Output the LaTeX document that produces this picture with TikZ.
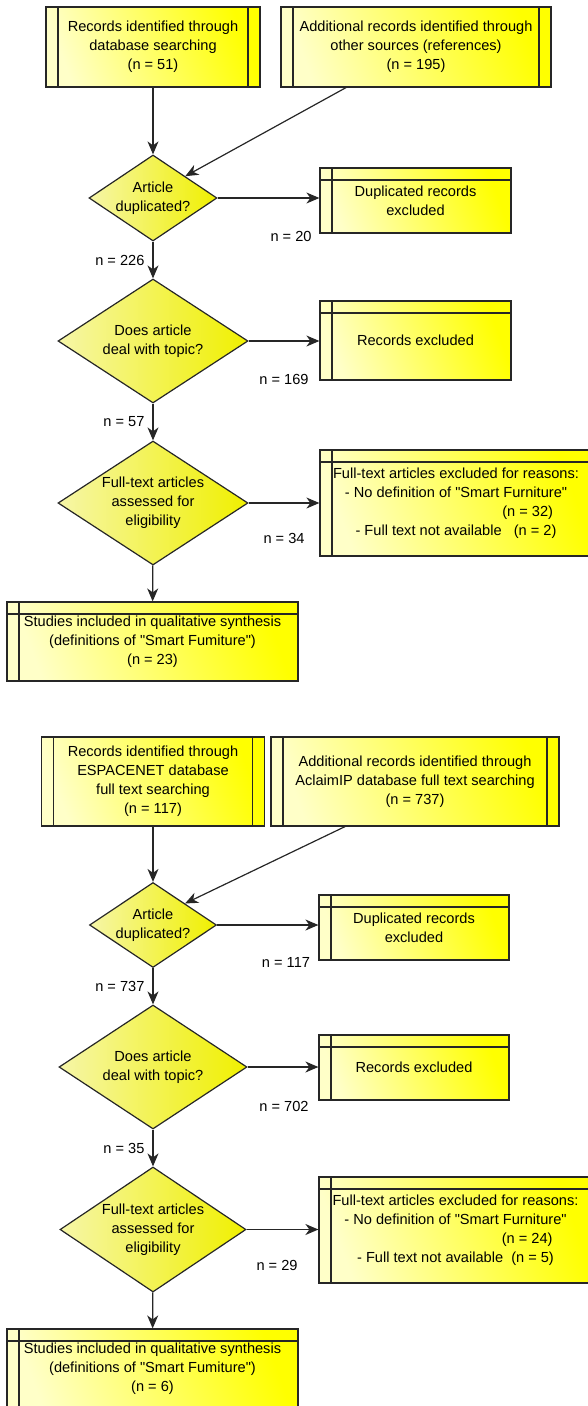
\documentclass[tikz,border=0pt]{standalone}
\usepackage{fontspec}
\setmainfont{Liberation Sans}[Ligatures=TeXOff]
\usetikzlibrary{arrows.meta,shapes.geometric}
\definecolor{paleyel}{HTML}{FFFFC8}
\definecolor{deepyel}{HTML}{FFFF00}
\definecolor{diapale}{HTML}{F6F6A8}
\definecolor{diadeep}{HTML}{F0F000}
\definecolor{edgegray}{HTML}{262626}

\begin{document}
\begin{tikzpicture}[x=1pt,y=-1pt,line width=1.2pt,
    font=\fontsize{14.6pt}{19pt}\selectfont,
    yel box/.style={draw=edgegray,left color=paleyel,right color=deepyel,shading angle=110,
                    inner sep=0pt,align=center},
    two bars/.style={path picture={
        \draw[edgegray]
          ([xshift=12pt]path picture bounding box.north west) -- ([xshift=12pt]path picture bounding box.south west)
          ([xshift=-12pt]path picture bounding box.north east) -- ([xshift=-12pt]path picture bounding box.south east);}},
    corner bars/.style={path picture={
        \draw[edgegray]
          ([xshift=12pt]path picture bounding box.north west) -- ([xshift=12pt]path picture bounding box.south west)
          ([yshift=-12pt]path picture bounding box.north west) -- ([yshift=-12pt]path picture bounding box.north east);}},
    ask node/.style={diamond,shape aspect=1.5,draw=edgegray,left color=diapale,right color=diadeep,
                     inner sep=0pt,align=center},
    flow arrow/.style={color=edgegray,-{Stealth[length=13pt,width=11pt,inset=4pt]}},
    n label/.style={inner sep=2pt,text=black}]
  \useasboundingbox (0,0) rectangle (588,1406);

  % scientific literature
  \node[yel box,two bars,minimum width=214pt,minimum height=80pt] (A1) at (153,47)
    {Records identified through\\database searching\\(n = 51)};
  \node[yel box,two bars,minimum width=270pt,minimum height=80pt] (A2) at (416,47)
    {Additional records identified through\\other sources (references)\\(n = 195)};
  \node[ask node,minimum width=128pt,minimum height=86pt] (D1) at (153,198) {Article\\duplicated?};
  \node[yel box,corner bars,minimum width=191pt,minimum height=65pt] (B1) at (415.5,200.5)
    {Duplicated records\\excluded};
  \node[ask node,minimum width=190pt,minimum height=124pt] (D2) at (153,341) {Does article\\deal with topic?};
  \node[yel box,corner bars,minimum width=191pt,minimum height=79pt] (B2) at (415.5,340.5)
    {Records excluded};
  \node[ask node,minimum width=190pt,minimum height=124pt] (D3) at (153,503)
    {Full-text articles\\assessed for\\eligibility};
  \node[yel box,corner bars,minimum width=272pt,minimum height=106pt] (B3) at (456,503)
    {Full-text articles excluded for reasons:\\ - No definition of "Smart Furniture"\\\makebox[194pt][r]{(n = 32)}\\- Full text not available\ \ \ (n = 2)};
  \node[yel box,corner bars,minimum width=291pt,minimum height=79pt] (C) at (152.5,641.5)
    {Studies included in qualitative synthesis\\(definitions of "Smart Fumiture")\\(n = 23)};

  \node[n label] (n20) at (291,236) {n = 20};
  \node[n label] (n169) at (284,379) {n = 169};
  \node[n label] (n34) at (284,538) {n = 34};

  \path[flow arrow] (A1) edge (D1)
    ([xshift=-70pt]A2.south) edge (D1.north east)
    (D1) edge node[n label,left=6pt] (n226) {n = 226} (D2)
    (D2) edge node[n label,left=6pt] (n57) {n = 57} (D3)
    (D3) edge (C);
  \draw[flow arrow] (D1.east) -- (D1.east -| B1.west);
  \draw[flow arrow] (D2.east) -- (D2.east -| B2.west);
  \draw[flow arrow] (D3.east) -- (D3.east -| B3.west);

  % patents
  \node[yel box,two bars,minimum width=223pt,minimum height=89pt] (A1b) at (153,781.5)
    {Records identified through\\ESPACENET database\\full text searching\\(n = 117)};
  \node[yel box,two bars,minimum width=288pt,minimum height=89pt] (A2b) at (415,781.5)
    {Additional records identified through\\AclaimIP database full text searching\\(n = 737)};
  \node[ask node,minimum width=127pt,minimum height=85pt] (D1b) at (153,925) {Article\\duplicated?};
  \node[yel box,corner bars,minimum width=190pt,minimum height=65pt] (B1b) at (414,927.5)
    {Duplicated records\\excluded};
  \node[ask node,minimum width=188pt,minimum height=124pt] (D2b) at (153,1067) {Does article\\deal with topic?};
  \node[yel box,corner bars,minimum width=190pt,minimum height=65pt] (B2b) at (414,1067.5)
    {Records excluded};
  \node[ask node,minimum width=186pt,minimum height=125pt] (D3b) at (153,1229.5)
    {Full-text articles\\assessed for\\eligibility};
  \node[yel box,corner bars,minimum width=273pt,minimum height=106pt] (B3b) at (455.5,1230)
    {Full-text articles excluded for reasons:\\ - No definition of "Smart Furniture"\\\makebox[194pt][r]{(n = 24)}\\- Full text not available\ \ (n = 5)};
  \node[yel box,corner bars,minimum width=291pt,minimum height=79pt] (Cb) at (152.5,1368.5)
    {Studies included in qualitative synthesis\\(definitions of "Smart Fumiture")\\(n = 6)};

  \node[n label] (n117) at (286,962) {n = 117};
  \node[n label] (n702) at (284,1106) {n = 702};
  \node[n label] (n29) at (277,1265) {n = 29};

  \path[flow arrow] (A1b) edge (D1b)
    ([xshift=-70pt]A2b.south) edge (D1b.north east)
    (D1b) edge node[n label,left=6pt] (n737) {n = 737} (D2b)
    (D2b) edge node[n label,left=6pt] (n35) {n = 35} (D3b)
    (D3b) edge (Cb);
  \draw[flow arrow] (D1b.east) -- (D1b.east -| B1b.west);
  \draw[flow arrow] (D2b.east) -- (D2b.east -| B2b.west);
  \draw[flow arrow] (D3b.east) -- (D3b.east -| B3b.west);
\end{tikzpicture}
\end{document}
